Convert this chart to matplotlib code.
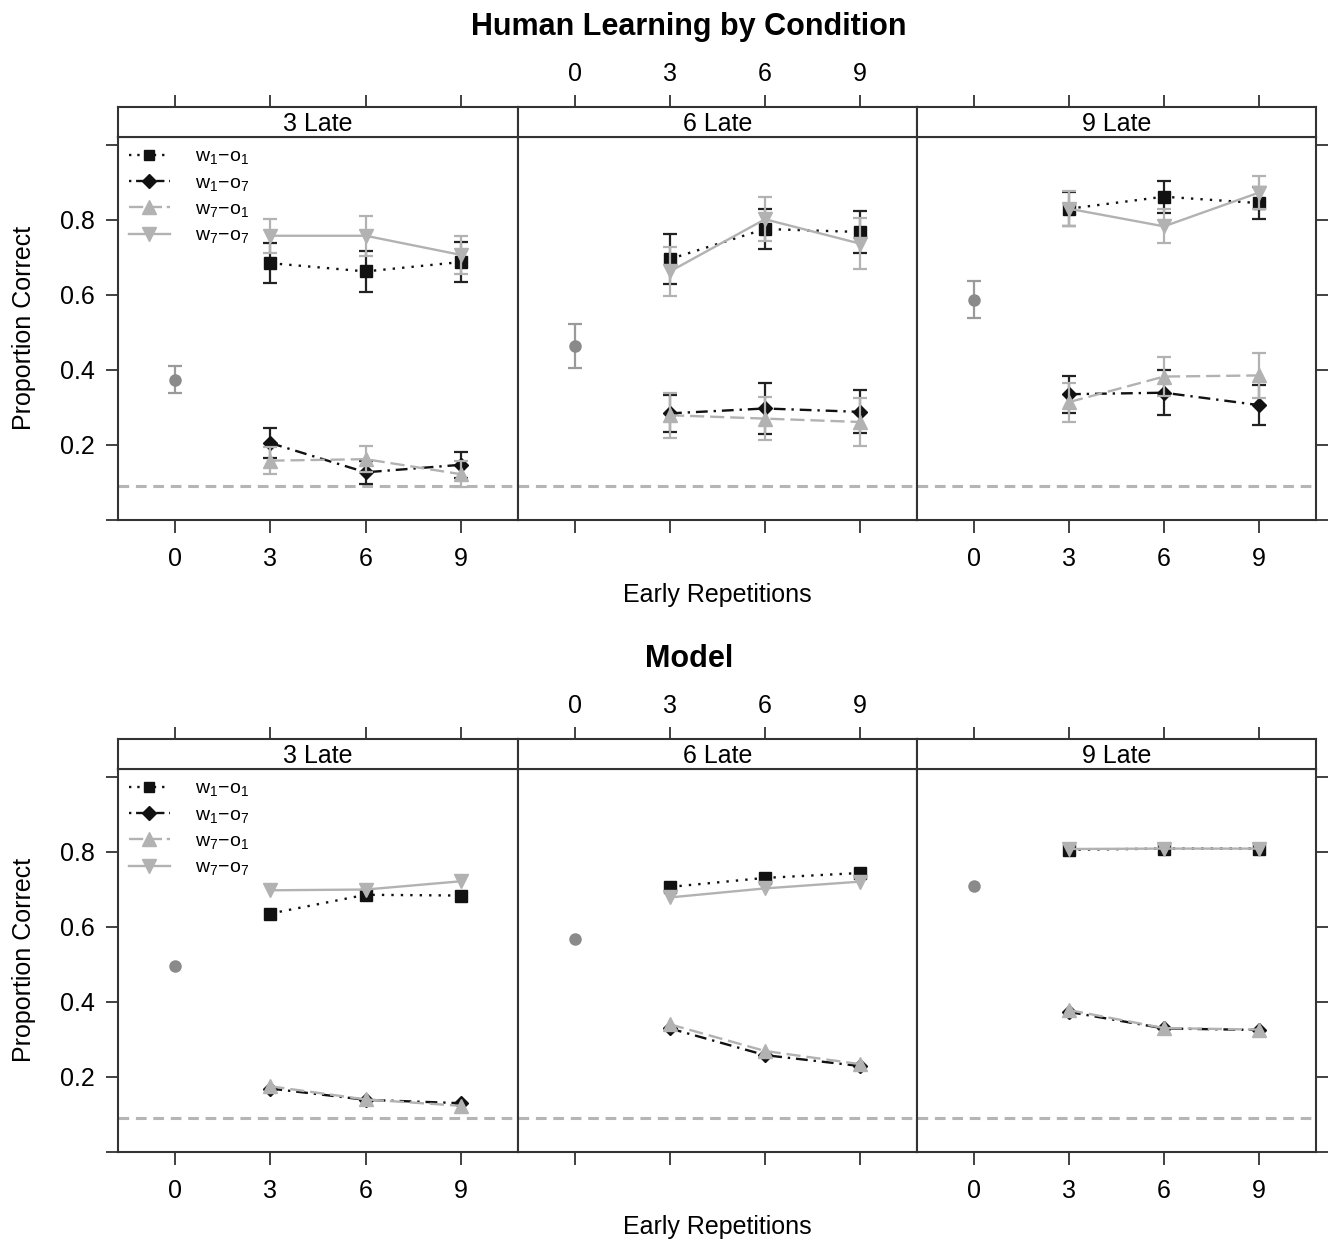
import matplotlib
matplotlib.use("Agg")
import matplotlib.pyplot as plt
from matplotlib.lines import Line2D

plt.rcParams['font.family'] = ['Liberation Sans', 'DejaVu Sans']
plt.rcParams['mathtext.fontset'] = 'custom'
plt.rcParams['mathtext.rm'] = 'Liberation Sans'
plt.rcParams['mathtext.it'] = 'Liberation Sans'

# ---------------- data ----------------
early = [3, 6, 9]
baseline_x = 0
late_conditions = ['3 Late', '6 Late', '9 Late']
series_labels = [r'$\mathrm{w_1\!-\!o_1}$', r'$\mathrm{w_1\!-\!o_7}$',
                 r'$\mathrm{w_7\!-\!o_1}$', r'$\mathrm{w_7\!-\!o_7}$']
chance = 0.09

human_baseline = [0.374, 0.463, 0.587]
human_baseline_err = [0.035, 0.058, 0.049]
human_w1o1 = [[0.684, 0.662, 0.687], [0.695, 0.775, 0.767], [0.829, 0.861, 0.844]]
human_w1o1_err = [[0.053, 0.055, 0.053], [0.066, 0.054, 0.055], [0.045, 0.043, 0.043]]
human_w1o7 = [[0.205, 0.127, 0.147], [0.284, 0.297, 0.288], [0.335, 0.339, 0.306]]
human_w1o7_err = [[0.040, 0.030, 0.035], [0.050, 0.069, 0.057], [0.049, 0.060, 0.053]]
human_w7o1 = [[0.158, 0.162, 0.122], [0.279, 0.270, 0.261], [0.314, 0.382, 0.385]]
human_w7o1_err = [[0.036, 0.034, 0.035], [0.060, 0.057, 0.064], [0.052, 0.052, 0.059]]
human_w7o7 = [[0.757, 0.757, 0.706], [0.662, 0.801, 0.736], [0.829, 0.782, 0.872]]
human_w7o7_err = [[0.045, 0.053, 0.050], [0.065, 0.058, 0.067], [0.046, 0.045, 0.044]]

model_baseline = [0.495, 0.566, 0.709]
model_w1o1 = [[0.635, 0.685, 0.683], [0.706, 0.730, 0.743], [0.805, 0.808, 0.808]]
model_w1o7 = [[0.169, 0.139, 0.130], [0.329, 0.258, 0.229], [0.373, 0.329, 0.325]]
model_w7o1 = [[0.175, 0.140, 0.123], [0.340, 0.269, 0.234], [0.378, 0.330, 0.326]]
model_w7o7 = [[0.697, 0.699, 0.721], [0.678, 0.702, 0.720], [0.807, 0.808, 0.808]]

x_ticks = [0, 3, 6, 9]
y_ticks = [0.0, 0.2, 0.4, 0.6, 0.8, 1.0]
y_ticklabels = ['', '0.2', '0.4', '0.6', '0.8', '']

# ---------------- styles ----------------
BLACK = '#111111'
LGRAY = '#b2b2b2'
MGRAY = '#8a8a8a'
FRAME = '#333333'
styles = [
    dict(color=BLACK, ls=(0, (1, 3)), marker='s', ms=8, ecolor='#222222',
         leg_ls=(0, (1, 2.5))),
    dict(color=BLACK, ls=(0, (5, 2.5, 1, 2.5)), marker='D', ms=7.5, ecolor='#222222',
         leg_ls=(0, (1, 2, 3.5, 2))),
    dict(color=LGRAY, ls=(0, (6, 2.5)), marker='^', ms=10, ecolor=LGRAY,
         leg_ls=(0, (6, 2))),
    dict(color=LGRAY, ls='-', marker='v', ms=10, ecolor=LGRAY, leg_ls='-'),
]

W, H = 1328, 1241
fig = plt.figure(figsize=(W / 100, H / 100), dpi=100)


def px_axes(left, top, right, bottom, **kw):
    return fig.add_axes([left / W, 1 - bottom / H, (right - left) / W, (bottom - top) / H], **kw)


panel_x = [(118, 518), (518, 917), (917, 1316)]
rows = [
    dict(off=0, title='Human Learning by Condition', base=human_baseline, base_err=human_baseline_err,
         series=[human_w1o1, human_w1o7, human_w7o1, human_w7o7],
         errs=[human_w1o1_err, human_w1o7_err, human_w7o1_err, human_w7o7_err]),
    dict(off=632, title='Model', base=model_baseline, base_err=None,
         series=[model_w1o1, model_w1o7, model_w7o1, model_w7o7], errs=None),
]

FS = 18
for row in rows:
    off = row['off']
    for j, (xl, xr) in enumerate(panel_x):
        ax = px_axes(xl, 137 + off, xr, 520 + off)
        strip = px_axes(xl, 106.7 + off, xr, 137 + off)
        for a in (ax, strip):
            for s in a.spines.values():
                s.set_color(FRAME)
                s.set_linewidth(1.5)
        ax.set_xlim(-1.8, 10.8)
        ax.set_ylim(0.0, 1.02)
        strip.set_xlim(-1.8, 10.8)
        strip.set_ylim(0, 1)
        strip.set_yticks([])
        strip.text(0.5, 0.42, late_conditions[j], transform=strip.transAxes,
                   ha='center', va='center', fontsize=FS)
        # top ticks on strip
        strip.xaxis.set_ticks_position('top')
        strip.set_xticks(x_ticks)
        strip.tick_params(axis='x', direction='out', length=9, width=1.3, color=FRAME,
                          pad=6, labelsize=FS, labeltop=(j == 1), labelbottom=False)
        # bottom ticks on panel
        ax.set_xticks(x_ticks)
        ax.tick_params(axis='x', direction='out', length=9, width=1.3, color=FRAME,
                       pad=10.5, labelsize=FS, labelbottom=(j != 1), top=False)
        # y ticks
        ax.set_yticks(y_ticks)
        if j == 0:
            ax.set_yticklabels(y_ticklabels)
            ax.tick_params(axis='y', direction='out', length=9, width=1.3, color=FRAME,
                           pad=8, labelsize=FS, left=True, right=False)
        elif j == 2:
            ax.yaxis.set_ticks_position('right')
            ax.tick_params(axis='y', direction='out', length=9, width=1.3, color=FRAME,
                           labelright=False, labelleft=False)
        else:
            ax.tick_params(axis='y', left=False, right=False, labelleft=False)

        ax.axhline(chance, color='#b5b5b5', lw=2.2, ls=(0, (3.5, 2.2)), zorder=1)

        # baseline point
        if row['base_err'] is not None:
            ax.errorbar([baseline_x], [row['base'][j]], yerr=[row['base_err'][j]], fmt='o',
                        color=MGRAY, ms=8, ecolor='#9a9a9a', elinewidth=1.6, capsize=5,
                        capthick=1.6, zorder=3)
        else:
            ax.plot([baseline_x], [row['base'][j]], 'o', color=MGRAY, ms=8, zorder=3)

        for k, st in enumerate(styles):
            y = row['series'][k][j]
            if row['errs'] is not None:
                ax.errorbar(early, y, yerr=row['errs'][k][j], fmt='none', ecolor=st['ecolor'],
                            elinewidth=1.6, capsize=5, capthick=1.6, zorder=3 + k)
            ax.plot(early, y, color=st['color'], ls=st['ls'], lw=1.7, marker=st['marker'],
                    ms=st['ms'], mec=st['color'], mfc=st['color'], zorder=4 + k)

        if j == 0:
            handles = [Line2D([], [], color=st['color'], ls=st['leg_ls'], lw=1.7,
                              marker=st['marker'], ms=st['ms'] * 0.95, mec=st['color'],
                              mfc=st['color']) for st in styles]
            ax.legend(handles, series_labels, loc='upper left', bbox_to_anchor=(0.0, 1.0),
                      frameon=False, fontsize=14, handlelength=2.1, handletextpad=1.3,
                      labelspacing=0.4, numpoints=1, borderaxespad=0.15)

    fig.text(689 / W, 1 - (27 + off) / H, row['title'], ha='center', va='center',
             fontsize=22, fontweight='bold')
    fig.text(717 / W, 1 - (595 + off) / H, 'Early Repetitions', ha='center', va='center', fontsize=FS)
    fig.text(24 / W, 1 - (328 + off) / H, 'Proportion Correct', ha='center', va='center',
             rotation=90, fontsize=FS)

fig.savefig('out.png', dpi=100)
